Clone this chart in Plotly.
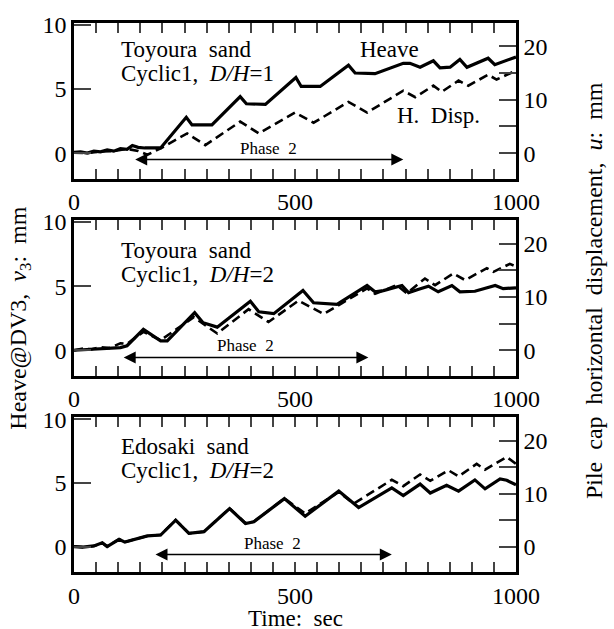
import plotly.graph_objects as go

# ---------------- data ----------------
# Panel 1: Toyoura sand, Cyclic1, D/H=1
p1_heave_t = [0, 15, 30, 45, 60, 75, 90, 105, 120, 132, 145, 160, 180, 196, 254, 267, 312, 376, 390,
              433, 502, 514, 557, 621, 636, 681, 745, 760, 783, 813, 828, 851, 873, 889, 937, 952, 1000]
p1_heave = [0.05, 0.1, 0.0, 0.15, 0.1, 0.25, 0.15, 0.35, 0.3, 0.6, 0.45, 0.4, 0.4, 0.4, 2.8, 2.2, 2.2,
            4.4, 3.85, 3.8, 5.9, 5.2, 5.2, 6.85, 6.25, 6.2, 7.0, 7.0, 6.7, 7.2, 6.65, 6.7, 7.3, 6.7,
            7.4, 6.9, 7.5]
p1_disp_t = [0, 30, 60, 90, 120, 145, 166, 196, 256, 297, 376, 418, 500, 542, 621, 663, 745, 772,
             813, 832, 870, 892, 937, 956, 998, 1000]
p1_disp = [0.1, 0.0, 0.3, 0.4, 0.8, 0.4, -0.3, 0.9, 3.7, 1.5, 5.9, 3.7, 7.6, 5.7, 9.6, 7.6, 11.7,
           10.5, 12.65, 11.5, 13.6, 12.65, 14.7, 13.8, 15.4, 15.3]

# Panel 2: Toyoura sand, Cyclic1, D/H=2
p2_heave_t = [0, 20, 40, 60, 80, 105, 120, 157, 196, 211, 273, 292, 324, 399, 418, 452, 518, 542,
              595, 663, 681, 700, 742, 757, 780, 802, 824, 855, 873, 907, 953, 971, 1000]
p2_heave = [0.0, 0.05, 0.1, 0.1, 0.15, 0.2, 0.35, 1.63, 0.73, 0.73, 2.93, 2.15, 1.8, 3.83, 3.0,
            2.85, 4.66, 3.7, 3.58, 5.05, 4.56, 4.65, 5.05, 4.5, 4.75, 5.0, 4.56, 5.05, 4.56, 4.6,
            5.05, 4.8, 4.87]
p2_disp_t = [0, 20, 40, 60, 80, 105, 120, 157, 196, 271, 324, 395, 440, 508, 565, 663, 681, 730,
             753, 794, 817, 858, 885, 934, 949, 986, 1000]
p2_disp = [0.0, 0.3, 0.2, 0.6, 0.4, 1.3, 1.2, 3.45, 1.9, 6.2, 3.15, 7.7, 5.3, 9.3, 6.8, 11.6, 10.6,
           12.2, 10.7, 13.45, 12.2, 14.4, 13.15, 15.4, 14.7, 16.2, 15.7]

# Panel 3: Edosaki sand, Cyclic1, D/H=2
p3_heave_t = [0, 20, 45, 64, 75, 90, 102, 115, 140, 166, 196, 230, 260, 294, 352, 388, 407, 476,
              523, 599, 644, 719, 745, 783, 806, 843, 870, 907, 930, 964, 979, 1000]
p3_heave = [0.0, -0.05, 0.05, 0.3, 0.0, 0.3, 0.57, 0.35, 0.6, 0.83, 0.9, 2.07, 1.04, 1.17, 2.98,
            1.81, 1.95, 3.76, 2.38, 4.35, 3.06, 4.6, 4.0, 4.9, 4.2, 4.8, 4.35, 5.23, 4.53, 5.3,
            5.2, 4.85]
p3_disp_t = [0, 20, 45, 64, 75, 90, 102, 115, 140, 166, 196, 230, 260, 294, 352, 388, 407, 476,
             523, 599, 633, 719, 745, 783, 806, 847, 870, 911, 930, 979, 1000]
p3_disp = [0.0, -0.1, 0.1, 0.7, 0.0, 0.7, 1.4, 0.85, 1.45, 2.0, 2.2, 5.0, 2.5, 2.8, 7.2, 4.4, 4.7,
           9.1, 6.25, 10.3, 8.1, 12.6, 11.4, 13.6, 12.4, 14.4, 13.25, 15.6, 14.5, 16.9, 15.6]

panel_line1 = ["Toyoura  sand", "Toyoura  sand", "Edosaki  sand"]
panel_line2 = ["Cyclic1,  <i>D/H</i>=1", "Cyclic1,  <i>D/H</i>=2", "Cyclic1,  <i>D/H</i>=2"]
phase_start = [135, 109, 181]
phase_end = [745, 666, 719]
phase_label = "Phase  2"

x_tickvals = list(range(0, 1001, 50))
x_ticktext = [str(v) if v % 500 == 0 else "" for v in x_tickvals]
left_tickvals = [0, 5, 10]
left_ticktext = ["0", "5", "10"]
right_tickvals = [0, 5, 10, 15, 20]
right_ticktext = ["0", "", "10", "", "20"]

# ---------------- figure ----------------
FONT = "Liberation Serif"
W, H = 614, 629
ml, mr, mt, mb = 74, 98, 15, 57
plot_h = H - mt - mb
plot_w = W - ml - mr

def py(y):  # pixel y -> paper
    return (H - mb - y) / plot_h

def px(x):
    return (x - ml) / plot_w

tops = [15, 215, 415]
bots = [173, 373, 572]
domains = [[py(b), py(t)] for t, b in zip(tops, bots)]

heaves = [(p1_heave_t, p1_heave), (p2_heave_t, p2_heave), (p3_heave_t, p3_heave)]
disps = [(p1_disp_t, p1_disp), (p2_disp_t, p2_disp), (p3_disp_t, p3_disp)]

fig = go.Figure()
layout = dict(
    width=W, height=H,
    margin=dict(l=ml, r=mr, t=mt, b=mb),
    paper_bgcolor="white", plot_bgcolor="white",
    showlegend=False,
    font=dict(family=FONT, size=24, color="black"),
)

def txt(x, y, text, size=24, xanchor="center", angle=0):
    return dict(xref="paper", yref="paper", x=x, y=y, text=text, showarrow=False,
                xanchor=xanchor, yanchor="middle", textangle=angle,
                font=dict(size=size, family=FONT, color="black"))

annotations = []
for i in range(3):
    n = i + 1
    xa = "x" if n == 1 else f"x{n}"
    ya = "y" if n == 1 else f"y{n}"
    yb = f"y{n + 3}"
    fig.add_trace(go.Scatter(x=heaves[i][0], y=heaves[i][1], mode="lines",
                             line=dict(color="black", width=3.2), xaxis=xa, yaxis=ya))
    fig.add_trace(go.Scatter(x=disps[i][0], y=disps[i][1], mode="lines",
                             line=dict(color="black", width=2.6, dash="9px,5px"),
                             xaxis=xa, yaxis=yb))
    xk = "xaxis" if n == 1 else f"xaxis{n}"
    yk = "yaxis" if n == 1 else f"yaxis{n}"
    layout[xk] = dict(domain=[0, 1], anchor=ya, range=[0, 1000], tickmode="array",
                      tickvals=x_tickvals, ticktext=x_ticktext, ticks="inside", ticklen=10,
                      tickwidth=2, showline=True, linewidth=2.5, linecolor="black",
                      mirror="ticks", showgrid=False, zeroline=False,
                      tickfont=dict(size=24, family=FONT))
    layout[yk] = dict(domain=domains[i], anchor=xa, range=[-2, 10.15], tickmode="array",
                      tickvals=left_tickvals, ticktext=left_ticktext, ticks="inside",
                      ticklen=17, tickwidth=2, showline=True, linewidth=2.5,
                      linecolor="black", showgrid=False, zeroline=False,
                      tickfont=dict(size=24, family=FONT))
    layout[f"yaxis{n + 3}"] = dict(domain=domains[i], anchor=xa, overlaying=ya, side="right",
                                   range=[-4.8, 24.4], tickmode="array",
                                   tickvals=right_tickvals, ticktext=right_ticktext,
                                   ticks="inside", ticklen=17, tickwidth=2, showline=True,
                                   linewidth=2.5, linecolor="black", showgrid=False,
                                   zeroline=False, tickfont=dict(size=24, family=FONT))
    # phase arrows
    yarr = [-0.5, -0.57, -0.63][i]
    annotations.append(dict(xref=xa, yref=ya, axref=xa, ayref=ya,
                            x=phase_end[i], y=yarr, ax=phase_start[i], ay=yarr,
                            text="", showarrow=True, arrowhead=2, startarrowhead=2,
                            arrowside="end+start", arrowsize=1.6, startarrowsize=1.6,
                            arrowwidth=1.5, arrowcolor="black"))
    annotations.append(dict(xref=xa, yref=ya, x=(phase_start[i] + phase_end[i]) / 2,
                            y=[0.38, 0.33, 0.25][i], text=phase_label, showarrow=False,
                            xanchor="center", yanchor="middle",
                            font=dict(size=17, family=FONT, color="black")))
    # panel labels
    annotations.append(txt(px(119), py([42, 246, 445][i]), panel_line1[i], size=23,
                           xanchor="left"))
    annotations.append(txt(px(119), py([66, 270, 469][i]), panel_line2[i], size=23,
                           xanchor="left"))

annotations.append(txt(px(389), py(42), "Heave", size=23))
annotations.append(txt(px(438), py(109), "H.  Disp.", size=23))
annotations.append(txt(0.5, py(619), "Time:  sec", size=23))
annotations.append(txt(px(20), py(315), "Heave@DV3,  <i>v</i><sub>3</sub>:  mm", angle=-90))
annotations.append(txt(px(594), py(287),
                       "Pile  cap  horizontal  displacement,  <i>u</i>:  mm", angle=-90))
layout["annotations"] = annotations
fig.update_layout(**layout)
fig.write_html("out.html")
